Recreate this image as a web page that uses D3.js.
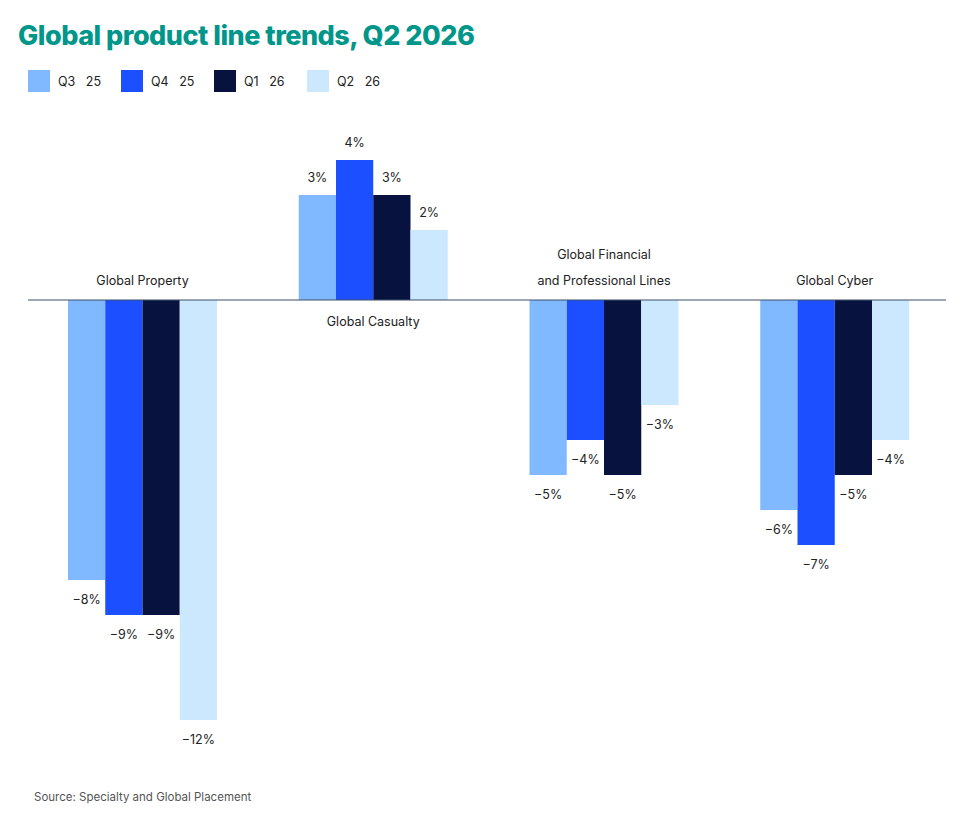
<!DOCTYPE html>
<html>
<head>
<meta charset="utf-8">
<script src="https://cdn.jsdelivr.net/npm/d3@7"></script>
<style>
body { margin: 0; background: #fff; font-family: Inter, "Open Sans", sans-serif; }
</style>
</head>
<body>
<div id="canvas"></div>
<script>
const categories = ['Global Property', 'Global Casualty', 'Global Financial|and Professional Lines', 'Global Cyber'];
const seriesNames = ['Q3   25', 'Q4   25', 'Q1   26', 'Q2   26'];
const q3_25 = [-8, 3, -5, -6];
const q4_25 = [-9, 4, -4, -7];
const q1_26 = [-9, 3, -5, -5];
const q2_26 = [-12, 2, -3, -4];
const colors = ['#80b9ff', '#1b4fff', '#07123f', '#cce8ff'];

const width = 971, height = 816;
const svg = d3.select('#canvas').append('svg').attr('width', width).attr('height', height);

svg.append('text').attr('x', 18).attr('y', 45)
	.attr('fill', '#00968a').attr('font-size', 27).attr('font-weight', 800)
	.attr('letter-spacing', -0.5).text('Global product line trends, Q2 2026');

// legend
const legend = svg.append('g');
seriesNames.forEach((name, i) => {
	const g = legend.append('g').attr('transform', `translate(${28 + i * 93}, 70)`);
	g.append('rect').attr('width', 22).attr('height', 22).attr('fill', colors[i]);
	g.append('text').attr('x', 30).attr('y', 16).attr('font-size', 12.5).attr('fill', '#222')
		.attr('xml:space', 'preserve').style('white-space', 'pre').text(name);
});

const series = [q3_25, q4_25, q1_26, q2_26];
const x0 = d3.scaleBand().domain(categories).range([27, 950]);
const x1 = d3.scaleBand().domain(d3.range(4)).range([41, 190]).padding(0);
const y = d3.scaleLinear().domain([-12, 4]).range([720, 160]);

const groups = svg.append('g').selectAll('g').data(categories).join('g')
	.attr('transform', d => `translate(${x0(d)},0)`);

groups.each(function (cat, ci) {
	const g = d3.select(this);
	series.forEach((s, si) => {
		const v = s[ci];
		g.append('rect')
			.attr('x', x1(si)).attr('width', x1.bandwidth())
			.attr('y', Math.min(y(v), y(0))).attr('height', Math.abs(y(v) - y(0)))
			.attr('fill', colors[si]);
		g.append('text')
			.attr('x', x1(si) + x1.bandwidth() / 2 + (v < 0 ? 0 : 0))
			.attr('y', v < 0 ? y(v) + 24 : y(v) - 13)
			.attr('text-anchor', 'middle').attr('font-size', 12.5).attr('fill', '#222')
			.text((v < 0 ? '\u2212' + Math.abs(v) : v) + '%');
	});
	const lines = cat.split('|');
	const allNeg = series.every(s => s[ci] < 0);
	const cx = x1.range()[0] + (x1.range()[1] - x1.range()[0]) / 2;
	lines.forEach((l, li) => {
		const yy = allNeg ? 285 - (lines.length - 1 - li) * 26 : 326 + li * 26;
		g.append('text').attr('x', cx).attr('y', yy).attr('text-anchor', 'middle')
			.attr('font-size', 12.5).attr('fill', '#222').text(l);
	});
});

svg.append('line').attr('x1', 28).attr('x2', 946).attr('y1', y(0)).attr('y2', y(0))
	.attr('stroke', '#3d5068').attr('stroke-width', 1.2);

svg.append('text').attr('x', 34).attr('y', 801).attr('font-size', 11.5).attr('fill', '#555')
	.text('Source: Specialty and Global Placement');
</script>
</body>
</html>
